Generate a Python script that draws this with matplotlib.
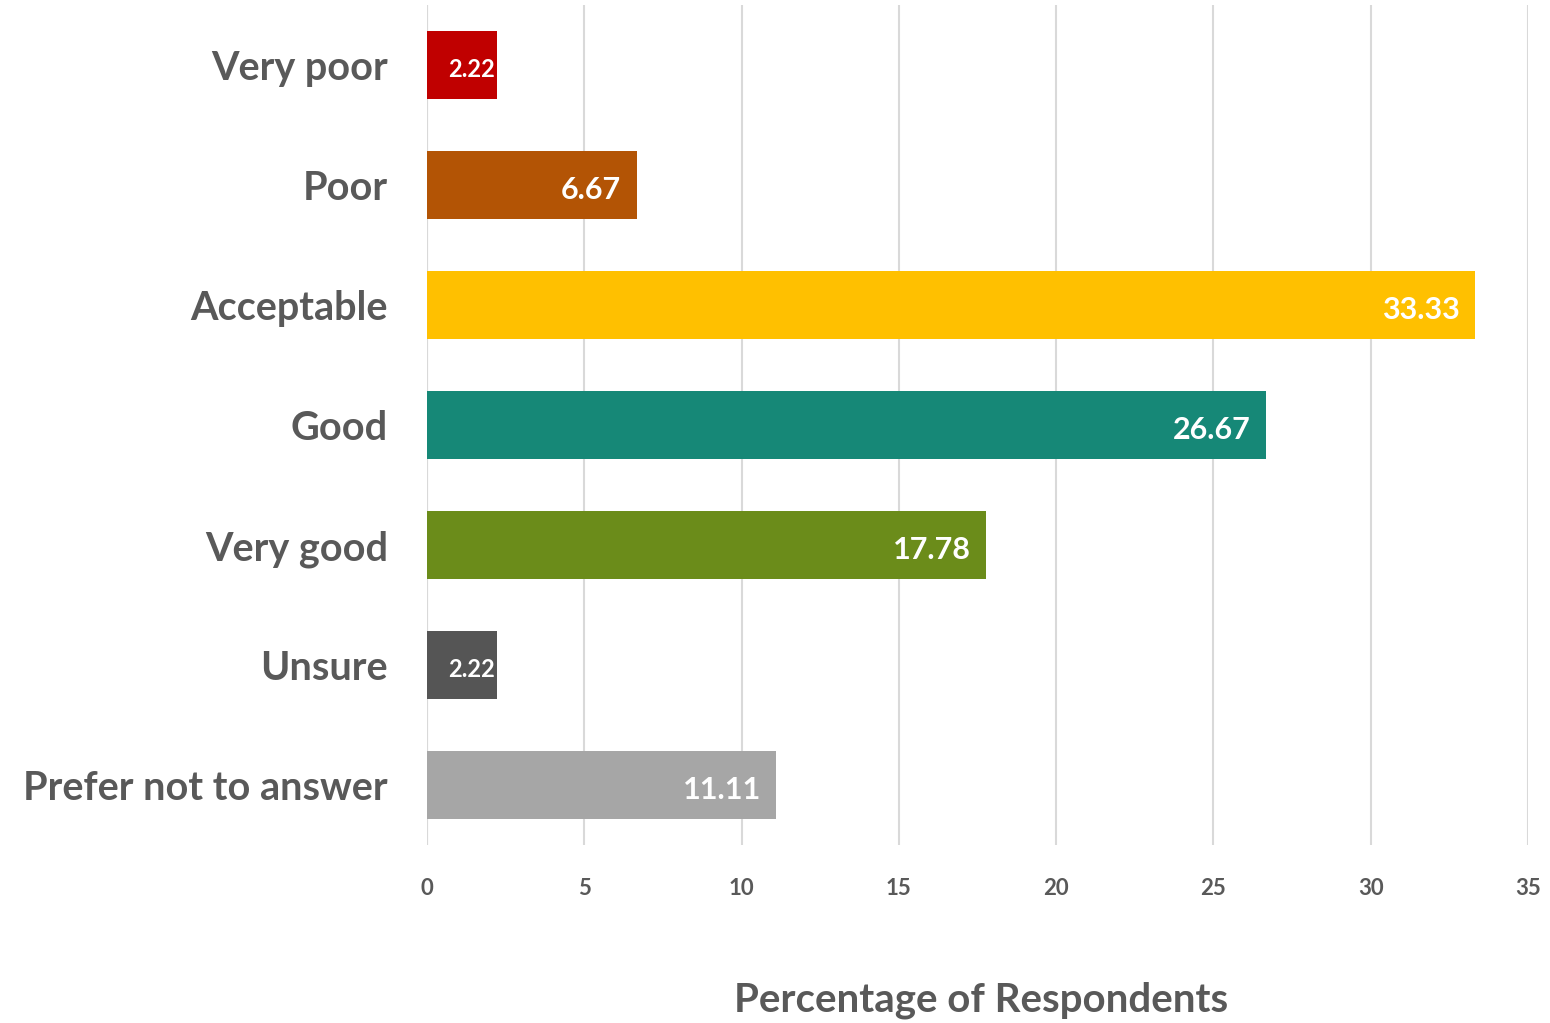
import matplotlib
matplotlib.use("Agg")
import matplotlib.pyplot as plt

categories = ["Very poor", "Poor", "Acceptable", "Good", "Very good", "Unsure", "Prefer not to answer"]
values = [2.22, 6.67, 33.33, 26.67, 17.78, 2.22, 11.11]
colors = ["#C00000", "#B35405", "#FFC000", "#168877", "#6B8C1A", "#555555", "#A6A6A6"]
xticks = [0, 5, 10, 15, 20, 25, 30, 35]
xlabel = "Percentage of Respondents"

plt.rcParams['font.family'] = ['Lato', 'DejaVu Sans']
fig = plt.figure(figsize=(15.5, 10.23), dpi=100)
ax = fig.add_axes([427/1550, 1-845/1023, (1528-427)/1550, 840/1023])

ypos = list(range(len(categories)))
bars = ax.barh(ypos, values, height=0.57, color=colors, zorder=3)
ax.set_ylim(6.5, -0.5)
ax.set_xlim(0, 35)
ax.set_xticks(xticks)
ax.set_xticklabels([str(t) for t in xticks], fontsize=16, fontweight='bold', color='#595959')
ax.tick_params(axis='x', length=0, pad=24)
ax.set_yticks(ypos)
ax.set_yticklabels(categories, fontsize=28.5, fontweight='bold', color='#595959')
ax.tick_params(axis='y', length=0, pad=28)
ax.grid(axis='x', color='#D9D9D9', linewidth=1.5, zorder=0)
for s in ax.spines.values():
    s.set_visible(False)
ax.axvline(0, color='#D9D9D9', linewidth=1.5, zorder=1)

for i, (v, b) in enumerate(zip(values, bars)):
    fs = 17 if v < 5 else 22
    off = 0.05 if v < 5 else 0.5
    ax.text(v - off, i + 0.04, f"{v:.2f}", ha='right', va='center', color='white',
            fontsize=fs, fontweight='bold', zorder=4)

fig.text((730+1232)/2/1550, 1-1000/1023, xlabel, ha='center', va='center',
         fontsize=29, fontweight='bold', color='#595959')

fig.savefig("out.png", dpi=100)
